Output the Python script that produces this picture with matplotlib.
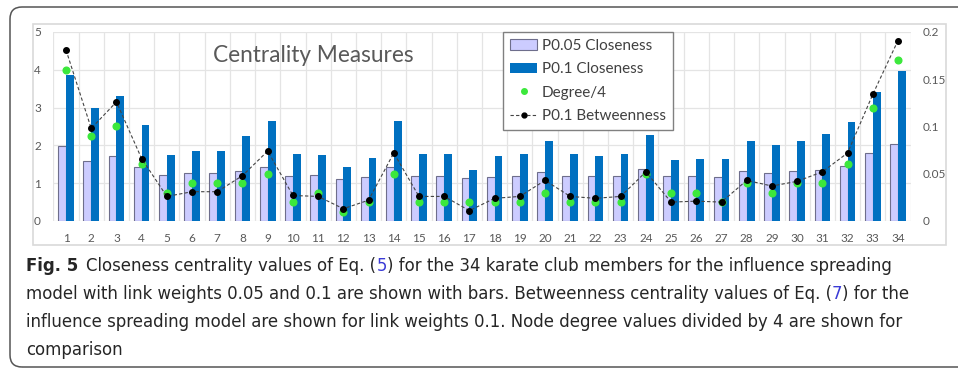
import matplotlib
matplotlib.use("Agg")
import matplotlib.pyplot as plt
from matplotlib.patches import Rectangle, FancyBboxPatch, Patch
from matplotlib.lines import Line2D
from matplotlib.transforms import IdentityTransform
from matplotlib import font_manager
import numpy as np

# Karate club members and their centrality values
members = list(range(1, 35))
closeness_p005 = [1.99, 1.60, 1.71, 1.44, 1.22, 1.27, 1.27, 1.32, 1.42, 1.19,
                  1.22, 1.10, 1.16, 1.43, 1.19, 1.19, 1.13, 1.17, 1.19, 1.29,
                  1.19, 1.18, 1.19, 1.37, 1.19, 1.19, 1.16, 1.31, 1.26, 1.31,
                  1.34, 1.46, 1.79, 2.04]
closeness_p01 = [3.86, 2.99, 3.31, 2.55, 1.75, 1.85, 1.85, 2.24, 2.65, 1.78,
                 1.75, 1.43, 1.67, 2.64, 1.77, 1.77, 1.35, 1.71, 1.77, 2.12,
                 1.77, 1.71, 1.77, 2.28, 1.61, 1.63, 1.63, 2.12, 2.02, 2.11,
                 2.30, 2.62, 3.41, 3.98]
degree_div4 = [4.0, 2.25, 2.5, 1.5, 0.75, 1.0, 1.0, 1.0, 1.25, 0.5,
               0.75, 0.25, 0.5, 1.25, 0.5, 0.5, 0.5, 0.5, 0.5, 0.75,
               0.5, 0.5, 0.5, 1.25, 0.75, 0.75, 0.5, 1.0, 0.75, 1.0,
               1.0, 1.5, 3.0, 4.25]
betweenness_p01 = [0.181, 0.098, 0.126, 0.066, 0.026, 0.031, 0.031, 0.048, 0.074, 0.027,
                   0.026, 0.013, 0.022, 0.072, 0.026, 0.026, 0.011, 0.024, 0.026, 0.043,
                   0.026, 0.024, 0.026, 0.052, 0.020, 0.021, 0.020, 0.043, 0.037, 0.042,
                   0.052, 0.072, 0.134, 0.191]
left_ticks = [0, 1, 2, 3, 4, 5]
right_ticks = [0, 0.05, 0.1, 0.15, 0.2]
right_labels = ["0", "0.05", "0.1", "0.15", "0.2"]

W, H = 958, 368
fig = plt.figure(figsize=(W / 100, H / 100), dpi=100)
plt.rcParams['font.family'] = ['Lato', 'DejaVu Sans']


def fx(px):
    return px / W


def fy(py):
    return 1 - py / H


gray_txt = '#595959'

# rounded frame round the whole figure
fig.patches.append(FancyBboxPatch((10, 1), 1000, 360,
                                  boxstyle="round,pad=0,rounding_size=12",
                                  transform=IdentityTransform(), fill=False,
                                  edgecolor='#555555', linewidth=1.1))
# light chart border
fig.patches.append(Rectangle((fx(33), fy(245)), fx(913), 221 / H,
                             transform=fig.transFigure, fill=False,
                             edgecolor='#d9d9d9', linewidth=1.2))

ax = fig.add_axes([fx(53.4), fy(221), fx(857.2), 189 / H])
x = np.array(members)
bw = 0.31
ax.bar(x - bw / 2, closeness_p005, width=bw, color='#ccccff',
       edgecolor='#6e6e8c', linewidth=0.8, zorder=2)
ax.bar(x + bw / 2, closeness_p01, width=bw, color='#0070c0',
       linewidth=0, zorder=2)
ax.plot(x, degree_div4, ls='none', marker='o', ms=4.8,
        color='#3ce83c', zorder=4)

ax.set_xlim(0.5, 34.5)
ax.set_ylim(0, 5)
ax.set_yticks(left_ticks)
ax.set_xticks(x)
ax.set_xticks(np.arange(0.5, 35, 1), minor=True)
ax.grid(axis='y', which='major', color='#e4e4e4', linewidth=0.9, zorder=0)
ax.grid(axis='x', which='minor', color='#e4e4e4', linewidth=0.9, zorder=0)
ax.set_axisbelow(True)
ax.tick_params(axis='both', which='both', length=0, labelsize=8.5,
               labelcolor=gray_txt)
ax.tick_params(axis='y', pad=9)
ax.tick_params(axis='x', pad=9)
for s in ax.spines.values():
    s.set_visible(False)

ax2 = ax.twinx()
ax2.plot(x, betweenness_p01, color='#444444', lw=0.8, dashes=(3, 2),
         marker='o', ms=4, mfc='black', mec='black', zorder=5)
ax2.set_ylim(0, 0.2)
ax2.set_yticks(right_ticks)
ax2.set_yticklabels(right_labels)
ax2.tick_params(axis='y', length=0, labelsize=8.5, labelcolor=gray_txt, pad=9)
for s in ax2.spines.values():
    s.set_visible(False)

fig.text(fx(313), fy(55), "Centrality Measures", ha='center', va='center',
         fontsize=16.3, color=gray_txt)

handles = [
    Patch(facecolor='#ccccff', edgecolor='#6e6e8c', linewidth=0.8),
    Patch(facecolor='#0070c0'),
    Line2D([], [], ls='none', marker='o', ms=4, color='#3ce83c'),
    Line2D([], [], color='#444444', lw=0.8, dashes=(3, 2), marker='o',
           ms=3.5, mfc='black', mec='black'),
]
labels = ["P0.05 Closeness", "P0.1 Closeness", "Degree/4", "P0.1 Betweenness"]
leg = fig.legend(handles, labels, loc='upper left',
                 bbox_to_anchor=(fx(503), fy(32)), frameon=True,
                 fancybox=False, edgecolor='#808080', framealpha=1,
                 fontsize=11, borderaxespad=0, handlelength=1.8,
                 handletextpad=0.3, labelspacing=0.62, borderpad=0.45)
leg.get_frame().set_linewidth(1.0)
for t in leg.get_texts():
    t.set_color('#404040')

# caption below the chart, with equation numbers in link blue
ttf = font_manager.fontManager.ttflist
has_condensed = any(f.name == 'DejaVu Sans' and f.stretch == 'condensed' for f in ttf)
if has_condensed:
    cap_font = dict(family='DejaVu Sans', fontstretch='condensed')
else:
    cap_font = dict(family='Liberation Sans')
blue = '#3b3bd6'
ink = '#262626'
renderer = fig.canvas.get_renderer()

line2 = "model with link weights 0.05 and 0.1 are shown with bars. Betweenness centrality values of Eq. (7) for the"
probe = fig.text(0, 0, line2, fontsize=10, **cap_font)
cap_size = 10 * (912 - 26) / probe.get_window_extent(renderer).width
probe.remove()


def caption_line(y, pieces, x0=26):
    xpos = x0
    for txt, color, weight, gap in pieces:
        xpos += gap
        t = fig.text(fx(xpos), fy(y), txt, ha='left', va='baseline',
                     fontsize=cap_size, color=color, fontweight=weight,
                     **cap_font)
        xpos += t.get_window_extent(renderer).width


caption_line(271, [("Fig. 5", ink, 'bold', 0),
                   ("Closeness centrality values of Eq. (", ink, 'normal', 8),
                   ("5", blue, 'normal', 0),
                   (") for the 34 karate club members for the influence spreading", ink, 'normal', 0)])
caption_line(299, [("model with link weights 0.05 and 0.1 are shown with bars. Betweenness centrality values of Eq. (", ink, 'normal', 0),
                   ("7", blue, 'normal', 0),
                   (") for the", ink, 'normal', 0)])
caption_line(327, [("influence spreading model are shown for link weights 0.1. Node degree values divided by 4 are shown for", ink, 'normal', 0)])
caption_line(355, [("comparison", ink, 'normal', 0)])

fig.savefig("out.png", dpi=100)
